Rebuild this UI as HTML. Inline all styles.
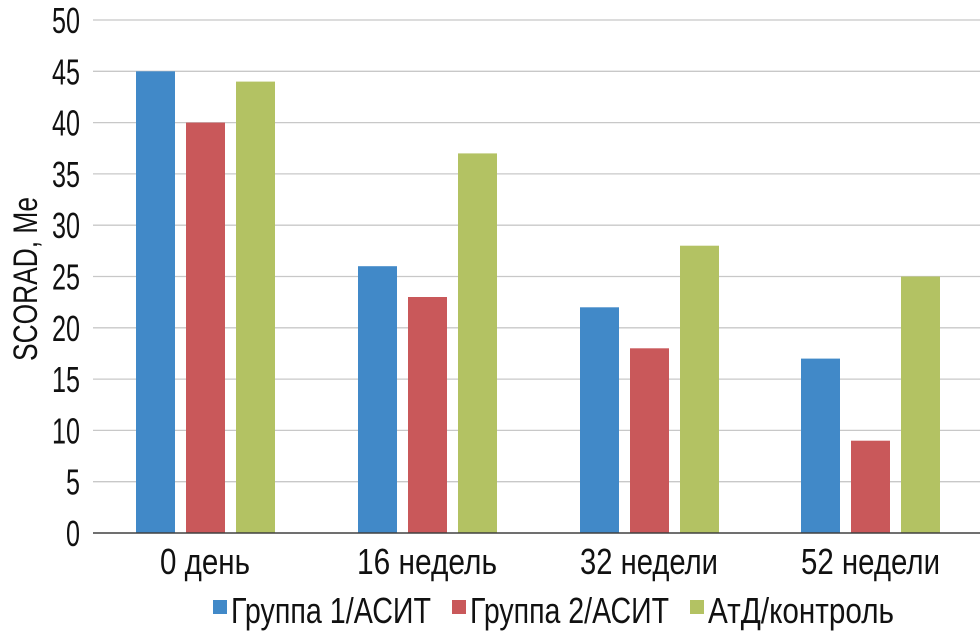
<!DOCTYPE html>
<html><head><meta charset="utf-8"><style>
html,body{margin:0;padding:0;background:#fff;}
svg{display:block;font-family:"Liberation Sans",sans-serif;}
</style></head><body>
<svg width="980" height="634" viewBox="0 0 980 634" xmlns="http://www.w3.org/2000/svg">
<g stroke="#c8c8c8" stroke-width="1.3">
<line x1="93" x2="980" y1="20" y2="20"/>
<line x1="93" x2="980" y1="71.3" y2="71.3"/>
<line x1="93" x2="980" y1="122.6" y2="122.6"/>
<line x1="93" x2="980" y1="173.9" y2="173.9"/>
<line x1="93" x2="980" y1="225.2" y2="225.2"/>
<line x1="93" x2="980" y1="276.5" y2="276.5"/>
<line x1="93" x2="980" y1="327.8" y2="327.8"/>
<line x1="93" x2="980" y1="379.1" y2="379.1"/>
<line x1="93" x2="980" y1="430.4" y2="430.4"/>
<line x1="93" x2="980" y1="481.7" y2="481.7"/>
</g>
<g fill="#4189c8">
<rect x="136" y="71.3" width="39" height="461.7"/>
<rect x="358" y="266.2" width="39" height="266.8"/>
<rect x="580" y="307.3" width="39" height="225.7"/>
<rect x="801" y="358.6" width="39" height="174.4"/>
</g>
<g fill="#c9585a">
<rect x="186" y="122.6" width="39" height="410.4"/>
<rect x="408" y="297" width="39" height="236"/>
<rect x="630" y="348.3" width="39" height="184.7"/>
<rect x="851" y="440.7" width="39" height="92.3"/>
</g>
<g fill="#b3c263">
<rect x="236" y="81.6" width="39" height="451.4"/>
<rect x="458" y="153.4" width="39" height="379.6"/>
<rect x="680" y="245.7" width="39" height="287.3"/>
<rect x="901" y="276.5" width="39" height="256.5"/>
</g>
<line x1="93" x2="980" y1="533" y2="533" stroke="#404040" stroke-width="1.5"/>
<g font-size="36" fill="#111" text-anchor="end">
<text x="80" y="33" textLength="28" lengthAdjust="spacingAndGlyphs">50</text>
<text x="80" y="84.3" textLength="28" lengthAdjust="spacingAndGlyphs">45</text>
<text x="80" y="135.6" textLength="28" lengthAdjust="spacingAndGlyphs">40</text>
<text x="80" y="186.9" textLength="28" lengthAdjust="spacingAndGlyphs">35</text>
<text x="80" y="238.2" textLength="28" lengthAdjust="spacingAndGlyphs">30</text>
<text x="80" y="289.5" textLength="28" lengthAdjust="spacingAndGlyphs">25</text>
<text x="80" y="340.8" textLength="28" lengthAdjust="spacingAndGlyphs">20</text>
<text x="80" y="392.1" textLength="28" lengthAdjust="spacingAndGlyphs">15</text>
<text x="80" y="443.4" textLength="28" lengthAdjust="spacingAndGlyphs">10</text>
<text x="80" y="494.7" textLength="14" lengthAdjust="spacingAndGlyphs">5</text>
<text x="80" y="546" textLength="14" lengthAdjust="spacingAndGlyphs">0</text>
</g>
<text transform="translate(37,279) rotate(-90)" font-size="34" fill="#111" text-anchor="middle" textLength="164" lengthAdjust="spacingAndGlyphs">SCORAD, Me</text>
<g font-size="36" fill="#111">
<text x="160" y="574" textLength="90" lengthAdjust="spacingAndGlyphs">0 день</text>
<text x="357" y="574" textLength="140" lengthAdjust="spacingAndGlyphs">16 недель</text>
<text x="580" y="574" textLength="138" lengthAdjust="spacingAndGlyphs">32 недели</text>
<text x="801" y="574" textLength="139" lengthAdjust="spacingAndGlyphs">52 недели</text>
</g>
<rect x="213" y="600" width="14" height="14" fill="#4189c8"/>
<rect x="452" y="600" width="14" height="14" fill="#c9585a"/>
<rect x="690" y="600" width="14" height="14" fill="#b3c263"/>
<g font-size="36" fill="#111">
<text x="231" y="623" textLength="200" lengthAdjust="spacingAndGlyphs">Группа 1/АСИТ</text>
<text x="470" y="623" textLength="199" lengthAdjust="spacingAndGlyphs">Группа 2/АСИТ</text>
<text x="708" y="623" textLength="186" lengthAdjust="spacingAndGlyphs">АтД/контроль</text>
</g>
</svg>
</body></html>
